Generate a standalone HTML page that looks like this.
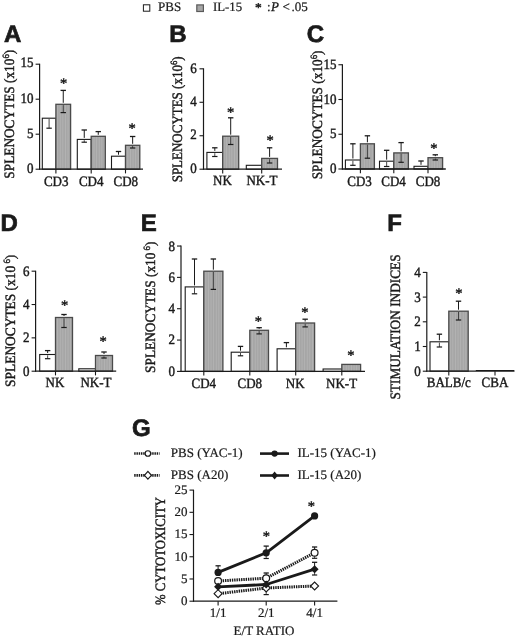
<!DOCTYPE html>
<html><head><meta charset="utf-8"><title>Figure</title>
<style>html,body{margin:0;padding:0;background:#fff;}svg{display:block;filter:grayscale(1);}text{text-rendering:geometricPrecision;}</style></head>
<body>
<svg width="520" height="638" viewBox="0 0 520 638">
<defs>
<pattern id="hatch" width="2.6" height="4" patternUnits="userSpaceOnUse">
<rect width="2.6" height="4" fill="#a6a6a6"/>
<rect x="0" width="0.9" height="4" fill="#b3b3b3"/>
</pattern>
</defs>
<rect width="520" height="638" fill="#fff"/>
<rect x="143.4" y="4.8" width="6.4" height="6.4" fill="#fff" stroke="#1a1a1a" stroke-width="1"/>
<text transform="translate(158.10,10.80) scale(1,1)" font-family='"Liberation Serif", serif' font-size="13" text-anchor="start" font-weight="normal" font-style="normal" fill="#1a1a1a" stroke="#1a1a1a" stroke-width="0.22" >PBS</text>
<rect x="196.8" y="4.9" width="6.6" height="6.6" fill="#a6a6a6" stroke="#5a5a5a" stroke-width="1.2"/>
<text transform="translate(213.00,10.80) scale(1,1)" font-family='"Liberation Serif", serif' font-size="12.8" text-anchor="start" font-weight="normal" font-style="normal" fill="#1a1a1a" stroke="#1a1a1a" stroke-width="0.22" >IL-15</text>
<text transform="translate(258.40,11.54) scale(1,1)" font-family='"Liberation Serif", serif' font-size="13.5" text-anchor="middle" font-weight="normal" font-style="normal" fill="#1a1a1a" stroke="#1a1a1a" stroke-width="0.45" >*</text>
<text transform="translate(267.00,10.80) scale(1,1)" font-family='"Liberation Serif", serif' font-size="13" text-anchor="start" font-weight="normal" font-style="normal" fill="#1a1a1a" stroke="#1a1a1a" stroke-width="0.22" >:</text>
<text transform="translate(271.00,10.80) scale(1,1)" font-family='"Liberation Serif", serif' font-size="13" text-anchor="start" font-weight="normal" font-style="italic" fill="#1a1a1a" stroke="#1a1a1a" stroke-width="0.3" >P</text>
<text transform="translate(282.50,10.80) scale(1,1)" font-family='"Liberation Serif", serif' font-size="13" text-anchor="start" font-weight="normal" font-style="normal" fill="#1a1a1a" stroke="#1a1a1a" stroke-width="0.22" >&lt;</text>
<text transform="translate(291.60,10.80) scale(1,1)" font-family='"Liberation Serif", serif' font-size="13" text-anchor="start" font-weight="normal" font-style="normal" fill="#1a1a1a" stroke="#1a1a1a" stroke-width="0.22" >.05</text>
<text transform="translate(3.90,41.60) scale(1,1)" font-family='"Liberation Sans", sans-serif' font-size="24" text-anchor="start" font-weight="bold" font-style="normal" fill="#1a1a1a" stroke="#1a1a1a" stroke-width="0.7" >A</text>
<text transform="translate(169.30,42.00) scale(1,1)" font-family='"Liberation Sans", sans-serif' font-size="24" text-anchor="start" font-weight="bold" font-style="normal" fill="#1a1a1a" stroke="#1a1a1a" stroke-width="0.7" >B</text>
<text transform="translate(306.70,42.20) scale(1,1)" font-family='"Liberation Sans", sans-serif' font-size="24" text-anchor="start" font-weight="bold" font-style="normal" fill="#1a1a1a" stroke="#1a1a1a" stroke-width="0.7" >C</text>
<text transform="translate(0.40,231.20) scale(1,1)" font-family='"Liberation Sans", sans-serif' font-size="24" text-anchor="start" font-weight="bold" font-style="normal" fill="#1a1a1a" stroke="#1a1a1a" stroke-width="0.7" >D</text>
<text transform="translate(140.80,231.20) scale(1,1)" font-family='"Liberation Sans", sans-serif' font-size="24" text-anchor="start" font-weight="bold" font-style="normal" fill="#1a1a1a" stroke="#1a1a1a" stroke-width="0.7" >E</text>
<text transform="translate(387.20,231.20) scale(1,1)" font-family='"Liberation Sans", sans-serif' font-size="24" text-anchor="start" font-weight="bold" font-style="normal" fill="#1a1a1a" stroke="#1a1a1a" stroke-width="0.7" >F</text>
<text transform="translate(132.00,435.70) scale(1,1)" font-family='"Liberation Sans", sans-serif' font-size="24" text-anchor="start" font-weight="bold" font-style="normal" fill="#1a1a1a" stroke="#1a1a1a" stroke-width="0.7" >G</text>
<rect x="42.30" y="118.20" width="13.60" height="51.00" fill="#fff" stroke="#1a1a1a" stroke-width="1.1"/>
<rect x="55.90" y="104.30" width="14.70" height="64.90" fill="url(#hatch)" stroke="#4a4a4a" stroke-width="1.3"/>
<rect x="77.30" y="139.40" width="13.90" height="29.80" fill="#fff" stroke="#1a1a1a" stroke-width="1.1"/>
<rect x="91.20" y="136.30" width="14.10" height="32.90" fill="url(#hatch)" stroke="#4a4a4a" stroke-width="1.3"/>
<rect x="111.50" y="156.20" width="14.00" height="13.00" fill="#fff" stroke="#1a1a1a" stroke-width="1.1"/>
<rect x="125.50" y="145.30" width="14.30" height="23.90" fill="url(#hatch)" stroke="#4a4a4a" stroke-width="1.3"/>
<line x1="39.60" y1="63.70" x2="39.60" y2="169.70" stroke="#1a1a1a" stroke-width="1.2" />
<line x1="39.10" y1="169.20" x2="143.00" y2="169.20" stroke="#1a1a1a" stroke-width="1.3" />
<line x1="35.60" y1="169.20" x2="39.60" y2="169.20" stroke="#1a1a1a" stroke-width="1.1" />
<text transform="translate(33.60,173.40) scale(0.91,1)" font-family='"Liberation Serif", serif' font-size="14.3" text-anchor="end" font-weight="normal" font-style="normal" fill="#1a1a1a" stroke="#1a1a1a" stroke-width="0.42" >0</text>
<line x1="35.60" y1="134.20" x2="39.60" y2="134.20" stroke="#1a1a1a" stroke-width="1.1" />
<text transform="translate(33.60,138.03) scale(0.91,1)" font-family='"Liberation Serif", serif' font-size="14.3" text-anchor="end" font-weight="normal" font-style="normal" fill="#1a1a1a" stroke="#1a1a1a" stroke-width="0.42" >5</text>
<line x1="35.60" y1="99.20" x2="39.60" y2="99.20" stroke="#1a1a1a" stroke-width="1.1" />
<text transform="translate(33.60,102.67) scale(0.91,1)" font-family='"Liberation Serif", serif' font-size="14.3" text-anchor="end" font-weight="normal" font-style="normal" fill="#1a1a1a" stroke="#1a1a1a" stroke-width="0.42" >10</text>
<line x1="35.60" y1="64.20" x2="39.60" y2="64.20" stroke="#1a1a1a" stroke-width="1.1" />
<text transform="translate(33.60,67.30) scale(0.91,1)" font-family='"Liberation Serif", serif' font-size="14.3" text-anchor="end" font-weight="normal" font-style="normal" fill="#1a1a1a" stroke="#1a1a1a" stroke-width="0.42" >15</text>
<line x1="49.10" y1="119.00" x2="49.10" y2="128.20" stroke="#333" stroke-width="0.9" />
<line x1="46.40" y1="128.20" x2="51.80" y2="128.20" stroke="#1a1a1a" stroke-width="1.2" />
<line x1="63.25" y1="90.40" x2="63.25" y2="102.80" stroke="#1a1a1a" stroke-width="1.0" />
<line x1="60.55" y1="90.40" x2="65.95" y2="90.40" stroke="#1a1a1a" stroke-width="1.3" />
<line x1="63.25" y1="105.10" x2="63.25" y2="112.60" stroke="#333" stroke-width="0.9" />
<line x1="60.55" y1="112.60" x2="65.95" y2="112.60" stroke="#1a1a1a" stroke-width="1.2" />
<line x1="55.90" y1="169.20" x2="55.90" y2="173.40" stroke="#1a1a1a" stroke-width="1.1" />
<line x1="84.25" y1="130.00" x2="84.25" y2="137.90" stroke="#1a1a1a" stroke-width="1.0" />
<line x1="81.55" y1="130.00" x2="86.95" y2="130.00" stroke="#1a1a1a" stroke-width="1.3" />
<line x1="84.25" y1="140.20" x2="84.25" y2="142.20" stroke="#333" stroke-width="0.9" />
<line x1="81.55" y1="142.20" x2="86.95" y2="142.20" stroke="#1a1a1a" stroke-width="1.2" />
<line x1="98.25" y1="131.60" x2="98.25" y2="134.80" stroke="#1a1a1a" stroke-width="1.0" />
<line x1="95.55" y1="131.60" x2="100.95" y2="131.60" stroke="#1a1a1a" stroke-width="1.3" />
<line x1="91.20" y1="169.20" x2="91.20" y2="173.40" stroke="#1a1a1a" stroke-width="1.1" />
<line x1="118.50" y1="151.50" x2="118.50" y2="154.70" stroke="#1a1a1a" stroke-width="1.0" />
<line x1="115.80" y1="151.50" x2="121.20" y2="151.50" stroke="#1a1a1a" stroke-width="1.3" />
<line x1="132.65" y1="136.50" x2="132.65" y2="143.80" stroke="#1a1a1a" stroke-width="1.0" />
<line x1="129.95" y1="136.50" x2="135.35" y2="136.50" stroke="#1a1a1a" stroke-width="1.3" />
<line x1="132.65" y1="146.10" x2="132.65" y2="148.00" stroke="#333" stroke-width="0.9" />
<line x1="129.95" y1="148.00" x2="135.35" y2="148.00" stroke="#1a1a1a" stroke-width="1.2" />
<line x1="125.50" y1="169.20" x2="125.50" y2="173.40" stroke="#1a1a1a" stroke-width="1.1" />
<text transform="translate(56.20,186.00) scale(0.91,1)" font-family='"Liberation Serif", serif' font-size="14.3" text-anchor="middle" font-weight="normal" font-style="normal" fill="#1a1a1a" stroke="#1a1a1a" stroke-width="0.42" >CD3</text>
<text transform="translate(91.20,186.00) scale(0.91,1)" font-family='"Liberation Serif", serif' font-size="14.3" text-anchor="middle" font-weight="normal" font-style="normal" fill="#1a1a1a" stroke="#1a1a1a" stroke-width="0.42" >CD4</text>
<text transform="translate(125.80,186.00) scale(0.91,1)" font-family='"Liberation Serif", serif' font-size="14.3" text-anchor="middle" font-weight="normal" font-style="normal" fill="#1a1a1a" stroke="#1a1a1a" stroke-width="0.42" >CD8</text>
<text transform="translate(63.50,87.61) scale(1,1)" font-family='"Liberation Serif", serif' font-size="14.5" text-anchor="middle" font-weight="normal" font-style="normal" fill="#1a1a1a" stroke="#1a1a1a" stroke-width="0.45" >*</text>
<text transform="translate(132.00,133.31) scale(1,1)" font-family='"Liberation Serif", serif' font-size="14.5" text-anchor="middle" font-weight="normal" font-style="normal" fill="#1a1a1a" stroke="#1a1a1a" stroke-width="0.45" >*</text>
<text transform="translate(14.10,114.20) rotate(-90) scale(0.93,1)" font-family='"Liberation Serif", serif' font-size="14.3" text-anchor="middle" fill="#1a1a1a" stroke="#1a1a1a" stroke-width="0.42">SPLENOCYTES (x10<tspan font-size="9.5" dy="-5">6</tspan><tspan dy="5">)</tspan></text>
<rect x="206.90" y="152.40" width="15.80" height="16.80" fill="#fff" stroke="#1a1a1a" stroke-width="1.1"/>
<rect x="222.70" y="136.20" width="16.00" height="33.00" fill="url(#hatch)" stroke="#4a4a4a" stroke-width="1.3"/>
<rect x="246.30" y="165.30" width="15.40" height="3.90" fill="#fff" stroke="#1a1a1a" stroke-width="1.1"/>
<rect x="261.70" y="158.40" width="15.80" height="10.80" fill="url(#hatch)" stroke="#4a4a4a" stroke-width="1.3"/>
<line x1="203.50" y1="68.30" x2="203.50" y2="169.70" stroke="#1a1a1a" stroke-width="1.2" />
<line x1="203.00" y1="169.20" x2="282.00" y2="169.20" stroke="#1a1a1a" stroke-width="1.3" />
<line x1="199.50" y1="169.20" x2="203.50" y2="169.20" stroke="#1a1a1a" stroke-width="1.1" />
<text transform="translate(196.70,172.80) scale(0.91,1)" font-family='"Liberation Serif", serif' font-size="14.3" text-anchor="end" font-weight="normal" font-style="normal" fill="#1a1a1a" stroke="#1a1a1a" stroke-width="0.42" >0</text>
<line x1="199.50" y1="135.74" x2="203.50" y2="135.74" stroke="#1a1a1a" stroke-width="1.1" />
<text transform="translate(196.70,139.41) scale(0.91,1)" font-family='"Liberation Serif", serif' font-size="14.3" text-anchor="end" font-weight="normal" font-style="normal" fill="#1a1a1a" stroke="#1a1a1a" stroke-width="0.42" >2</text>
<line x1="199.50" y1="102.28" x2="203.50" y2="102.28" stroke="#1a1a1a" stroke-width="1.1" />
<text transform="translate(196.70,106.01) scale(0.91,1)" font-family='"Liberation Serif", serif' font-size="14.3" text-anchor="end" font-weight="normal" font-style="normal" fill="#1a1a1a" stroke="#1a1a1a" stroke-width="0.42" >4</text>
<line x1="199.50" y1="68.82" x2="203.50" y2="68.82" stroke="#1a1a1a" stroke-width="1.1" />
<text transform="translate(196.70,72.62) scale(0.91,1)" font-family='"Liberation Serif", serif' font-size="14.3" text-anchor="end" font-weight="normal" font-style="normal" fill="#1a1a1a" stroke="#1a1a1a" stroke-width="0.42" >6</text>
<line x1="214.80" y1="147.80" x2="214.80" y2="150.90" stroke="#1a1a1a" stroke-width="1.0" />
<line x1="212.10" y1="147.80" x2="217.50" y2="147.80" stroke="#1a1a1a" stroke-width="1.3" />
<line x1="214.80" y1="153.20" x2="214.80" y2="156.50" stroke="#333" stroke-width="0.9" />
<line x1="212.10" y1="156.50" x2="217.50" y2="156.50" stroke="#1a1a1a" stroke-width="1.2" />
<line x1="230.70" y1="117.80" x2="230.70" y2="134.70" stroke="#1a1a1a" stroke-width="1.0" />
<line x1="228.00" y1="117.80" x2="233.40" y2="117.80" stroke="#1a1a1a" stroke-width="1.3" />
<line x1="230.70" y1="137.00" x2="230.70" y2="144.50" stroke="#333" stroke-width="0.9" />
<line x1="228.00" y1="144.50" x2="233.40" y2="144.50" stroke="#1a1a1a" stroke-width="1.2" />
<line x1="222.70" y1="169.20" x2="222.70" y2="173.40" stroke="#1a1a1a" stroke-width="1.1" />
<line x1="269.60" y1="147.80" x2="269.60" y2="156.90" stroke="#1a1a1a" stroke-width="1.0" />
<line x1="266.90" y1="147.80" x2="272.30" y2="147.80" stroke="#1a1a1a" stroke-width="1.3" />
<line x1="269.60" y1="159.20" x2="269.60" y2="163.00" stroke="#333" stroke-width="0.9" />
<line x1="266.90" y1="163.00" x2="272.30" y2="163.00" stroke="#1a1a1a" stroke-width="1.2" />
<line x1="261.70" y1="169.20" x2="261.70" y2="173.40" stroke="#1a1a1a" stroke-width="1.1" />
<text transform="translate(222.50,185.30) scale(0.91,1)" font-family='"Liberation Serif", serif' font-size="14.3" text-anchor="middle" font-weight="normal" font-style="normal" fill="#1a1a1a" stroke="#1a1a1a" stroke-width="0.42" >NK</text>
<text transform="translate(262.00,185.30) scale(0.91,1)" font-family='"Liberation Serif", serif' font-size="14.3" text-anchor="middle" font-weight="normal" font-style="normal" fill="#1a1a1a" stroke="#1a1a1a" stroke-width="0.42" >NK-T</text>
<text transform="translate(230.50,117.31) scale(1,1)" font-family='"Liberation Serif", serif' font-size="14.5" text-anchor="middle" font-weight="normal" font-style="normal" fill="#1a1a1a" stroke="#1a1a1a" stroke-width="0.45" >*</text>
<text transform="translate(270.00,145.31) scale(1,1)" font-family='"Liberation Serif", serif' font-size="14.5" text-anchor="middle" font-weight="normal" font-style="normal" fill="#1a1a1a" stroke="#1a1a1a" stroke-width="0.45" >*</text>
<text transform="translate(182.20,119.40) rotate(-90) scale(0.908,1)" font-family='"Liberation Serif", serif' font-size="14.3" text-anchor="middle" fill="#1a1a1a" stroke="#1a1a1a" stroke-width="0.42">SPLENOCYTES (x10<tspan font-size="9.5" dy="-5">6</tspan><tspan dy="5">)</tspan></text>
<rect x="345.40" y="160.00" width="15.00" height="9.00" fill="#fff" stroke="#1a1a1a" stroke-width="1.1"/>
<rect x="360.40" y="143.80" width="14.00" height="25.20" fill="url(#hatch)" stroke="#4a4a4a" stroke-width="1.3"/>
<rect x="379.50" y="161.20" width="14.30" height="7.80" fill="#fff" stroke="#1a1a1a" stroke-width="1.1"/>
<rect x="393.80" y="152.90" width="14.60" height="16.10" fill="url(#hatch)" stroke="#4a4a4a" stroke-width="1.3"/>
<rect x="414.00" y="166.30" width="14.00" height="2.70" fill="#fff" stroke="#1a1a1a" stroke-width="1.1"/>
<rect x="428.00" y="157.70" width="14.60" height="11.30" fill="url(#hatch)" stroke="#4a4a4a" stroke-width="1.3"/>
<line x1="342.40" y1="64.20" x2="342.40" y2="169.50" stroke="#1a1a1a" stroke-width="1.2" />
<line x1="341.90" y1="169.00" x2="445.80" y2="169.00" stroke="#1a1a1a" stroke-width="1.3" />
<line x1="338.40" y1="169.00" x2="342.40" y2="169.00" stroke="#1a1a1a" stroke-width="1.1" />
<text transform="translate(336.40,173.20) scale(0.91,1)" font-family='"Liberation Serif", serif' font-size="14.3" text-anchor="end" font-weight="normal" font-style="normal" fill="#1a1a1a" stroke="#1a1a1a" stroke-width="0.42" >0</text>
<line x1="338.40" y1="134.25" x2="342.40" y2="134.25" stroke="#1a1a1a" stroke-width="1.1" />
<text transform="translate(336.40,138.38) scale(0.91,1)" font-family='"Liberation Serif", serif' font-size="14.3" text-anchor="end" font-weight="normal" font-style="normal" fill="#1a1a1a" stroke="#1a1a1a" stroke-width="0.42" >5</text>
<line x1="338.40" y1="99.50" x2="342.40" y2="99.50" stroke="#1a1a1a" stroke-width="1.1" />
<text transform="translate(336.40,103.57) scale(0.91,1)" font-family='"Liberation Serif", serif' font-size="14.3" text-anchor="end" font-weight="normal" font-style="normal" fill="#1a1a1a" stroke="#1a1a1a" stroke-width="0.42" >10</text>
<line x1="338.40" y1="64.75" x2="342.40" y2="64.75" stroke="#1a1a1a" stroke-width="1.1" />
<text transform="translate(336.40,68.75) scale(0.91,1)" font-family='"Liberation Serif", serif' font-size="14.3" text-anchor="end" font-weight="normal" font-style="normal" fill="#1a1a1a" stroke="#1a1a1a" stroke-width="0.42" >15</text>
<line x1="352.90" y1="143.80" x2="352.90" y2="158.50" stroke="#1a1a1a" stroke-width="1.0" />
<line x1="350.20" y1="143.80" x2="355.60" y2="143.80" stroke="#1a1a1a" stroke-width="1.3" />
<line x1="352.90" y1="160.80" x2="352.90" y2="165.30" stroke="#333" stroke-width="0.9" />
<line x1="350.20" y1="165.30" x2="355.60" y2="165.30" stroke="#1a1a1a" stroke-width="1.2" />
<line x1="367.40" y1="135.80" x2="367.40" y2="142.30" stroke="#1a1a1a" stroke-width="1.0" />
<line x1="364.70" y1="135.80" x2="370.10" y2="135.80" stroke="#1a1a1a" stroke-width="1.3" />
<line x1="367.40" y1="144.60" x2="367.40" y2="158.20" stroke="#333" stroke-width="0.9" />
<line x1="364.70" y1="158.20" x2="370.10" y2="158.20" stroke="#1a1a1a" stroke-width="1.2" />
<line x1="360.40" y1="169.00" x2="360.40" y2="173.20" stroke="#1a1a1a" stroke-width="1.1" />
<line x1="386.65" y1="150.30" x2="386.65" y2="159.70" stroke="#1a1a1a" stroke-width="1.0" />
<line x1="383.95" y1="150.30" x2="389.35" y2="150.30" stroke="#1a1a1a" stroke-width="1.3" />
<line x1="386.65" y1="162.00" x2="386.65" y2="166.50" stroke="#333" stroke-width="0.9" />
<line x1="383.95" y1="166.50" x2="389.35" y2="166.50" stroke="#1a1a1a" stroke-width="1.2" />
<line x1="401.10" y1="142.60" x2="401.10" y2="151.40" stroke="#1a1a1a" stroke-width="1.0" />
<line x1="398.40" y1="142.60" x2="403.80" y2="142.60" stroke="#1a1a1a" stroke-width="1.3" />
<line x1="401.10" y1="153.70" x2="401.10" y2="162.30" stroke="#333" stroke-width="0.9" />
<line x1="398.40" y1="162.30" x2="403.80" y2="162.30" stroke="#1a1a1a" stroke-width="1.2" />
<line x1="393.80" y1="169.00" x2="393.80" y2="173.20" stroke="#1a1a1a" stroke-width="1.1" />
<line x1="421.00" y1="161.00" x2="421.00" y2="164.80" stroke="#1a1a1a" stroke-width="1.0" />
<line x1="418.30" y1="161.00" x2="423.70" y2="161.00" stroke="#1a1a1a" stroke-width="1.3" />
<line x1="435.30" y1="154.80" x2="435.30" y2="156.20" stroke="#1a1a1a" stroke-width="1.0" />
<line x1="432.60" y1="154.80" x2="438.00" y2="154.80" stroke="#1a1a1a" stroke-width="1.3" />
<line x1="435.30" y1="158.50" x2="435.30" y2="160.00" stroke="#333" stroke-width="0.9" />
<line x1="432.60" y1="160.00" x2="438.00" y2="160.00" stroke="#1a1a1a" stroke-width="1.2" />
<line x1="428.00" y1="169.00" x2="428.00" y2="173.20" stroke="#1a1a1a" stroke-width="1.1" />
<text transform="translate(359.50,186.00) scale(0.91,1)" font-family='"Liberation Serif", serif' font-size="14.3" text-anchor="middle" font-weight="normal" font-style="normal" fill="#1a1a1a" stroke="#1a1a1a" stroke-width="0.42" >CD3</text>
<text transform="translate(393.50,186.00) scale(0.91,1)" font-family='"Liberation Serif", serif' font-size="14.3" text-anchor="middle" font-weight="normal" font-style="normal" fill="#1a1a1a" stroke="#1a1a1a" stroke-width="0.42" >CD4</text>
<text transform="translate(428.00,186.00) scale(0.91,1)" font-family='"Liberation Serif", serif' font-size="14.3" text-anchor="middle" font-weight="normal" font-style="normal" fill="#1a1a1a" stroke="#1a1a1a" stroke-width="0.42" >CD8</text>
<text transform="translate(433.80,152.81) scale(1,1)" font-family='"Liberation Serif", serif' font-size="14.5" text-anchor="middle" font-weight="normal" font-style="normal" fill="#1a1a1a" stroke="#1a1a1a" stroke-width="0.45" >*</text>
<text transform="translate(322.00,114.90) rotate(-90) scale(0.93,1)" font-family='"Liberation Serif", serif' font-size="14.3" text-anchor="middle" fill="#1a1a1a" stroke="#1a1a1a" stroke-width="0.42">SPLENOCYTES (x10<tspan font-size="9.5" dy="-5">6</tspan><tspan dy="5">)</tspan></text>
<rect x="39.70" y="354.50" width="15.90" height="16.70" fill="#fff" stroke="#1a1a1a" stroke-width="1.1"/>
<rect x="55.50" y="317.50" width="17.00" height="53.70" fill="url(#hatch)" stroke="#4a4a4a" stroke-width="1.3"/>
<rect x="78.80" y="368.80" width="16.70" height="2.40" fill="#fff" stroke="#1a1a1a" stroke-width="1.1"/>
<rect x="95.50" y="355.50" width="17.00" height="15.70" fill="url(#hatch)" stroke="#4a4a4a" stroke-width="1.3"/>
<line x1="35.60" y1="270.70" x2="35.60" y2="371.70" stroke="#1a1a1a" stroke-width="1.2" />
<line x1="35.10" y1="371.20" x2="116.20" y2="371.20" stroke="#1a1a1a" stroke-width="1.3" />
<line x1="31.60" y1="371.20" x2="35.60" y2="371.20" stroke="#1a1a1a" stroke-width="1.1" />
<text transform="translate(29.60,375.50) scale(0.91,1)" font-family='"Liberation Serif", serif' font-size="14.3" text-anchor="end" font-weight="normal" font-style="normal" fill="#1a1a1a" stroke="#1a1a1a" stroke-width="0.42" >0</text>
<line x1="31.60" y1="337.86" x2="35.60" y2="337.86" stroke="#1a1a1a" stroke-width="1.1" />
<text transform="translate(29.60,342.26) scale(0.91,1)" font-family='"Liberation Serif", serif' font-size="14.3" text-anchor="end" font-weight="normal" font-style="normal" fill="#1a1a1a" stroke="#1a1a1a" stroke-width="0.42" >2</text>
<line x1="31.60" y1="304.52" x2="35.60" y2="304.52" stroke="#1a1a1a" stroke-width="1.1" />
<text transform="translate(29.60,309.02) scale(0.91,1)" font-family='"Liberation Serif", serif' font-size="14.3" text-anchor="end" font-weight="normal" font-style="normal" fill="#1a1a1a" stroke="#1a1a1a" stroke-width="0.42" >4</text>
<line x1="31.60" y1="271.18" x2="35.60" y2="271.18" stroke="#1a1a1a" stroke-width="1.1" />
<text transform="translate(29.60,275.78) scale(0.91,1)" font-family='"Liberation Serif", serif' font-size="14.3" text-anchor="end" font-weight="normal" font-style="normal" fill="#1a1a1a" stroke="#1a1a1a" stroke-width="0.42" >6</text>
<line x1="47.65" y1="350.60" x2="47.65" y2="353.00" stroke="#1a1a1a" stroke-width="1.0" />
<line x1="44.95" y1="350.60" x2="50.35" y2="350.60" stroke="#1a1a1a" stroke-width="1.3" />
<line x1="47.65" y1="355.30" x2="47.65" y2="358.70" stroke="#333" stroke-width="0.9" />
<line x1="44.95" y1="358.70" x2="50.35" y2="358.70" stroke="#1a1a1a" stroke-width="1.2" />
<line x1="64.00" y1="314.50" x2="64.00" y2="316.00" stroke="#1a1a1a" stroke-width="1.0" />
<line x1="61.30" y1="314.50" x2="66.70" y2="314.50" stroke="#1a1a1a" stroke-width="1.3" />
<line x1="64.00" y1="318.30" x2="64.00" y2="327.50" stroke="#333" stroke-width="0.9" />
<line x1="61.30" y1="327.50" x2="66.70" y2="327.50" stroke="#1a1a1a" stroke-width="1.2" />
<line x1="55.50" y1="371.20" x2="55.50" y2="375.40" stroke="#1a1a1a" stroke-width="1.1" />
<line x1="104.00" y1="352.00" x2="104.00" y2="354.00" stroke="#1a1a1a" stroke-width="1.0" />
<line x1="101.30" y1="352.00" x2="106.70" y2="352.00" stroke="#1a1a1a" stroke-width="1.3" />
<line x1="104.00" y1="356.30" x2="104.00" y2="358.00" stroke="#333" stroke-width="0.9" />
<line x1="101.30" y1="358.00" x2="106.70" y2="358.00" stroke="#1a1a1a" stroke-width="1.2" />
<line x1="95.50" y1="371.20" x2="95.50" y2="375.40" stroke="#1a1a1a" stroke-width="1.1" />
<text transform="translate(55.00,387.00) scale(0.91,1)" font-family='"Liberation Serif", serif' font-size="14.3" text-anchor="middle" font-weight="normal" font-style="normal" fill="#1a1a1a" stroke="#1a1a1a" stroke-width="0.42" >NK</text>
<text transform="translate(96.00,387.00) scale(0.91,1)" font-family='"Liberation Serif", serif' font-size="14.3" text-anchor="middle" font-weight="normal" font-style="normal" fill="#1a1a1a" stroke="#1a1a1a" stroke-width="0.42" >NK-T</text>
<text transform="translate(64.50,310.01) scale(1,1)" font-family='"Liberation Serif", serif' font-size="14.5" text-anchor="middle" font-weight="normal" font-style="normal" fill="#1a1a1a" stroke="#1a1a1a" stroke-width="0.45" >*</text>
<text transform="translate(103.20,346.21) scale(1,1)" font-family='"Liberation Serif", serif' font-size="14.5" text-anchor="middle" font-weight="normal" font-style="normal" fill="#1a1a1a" stroke="#1a1a1a" stroke-width="0.45" >*</text>
<text transform="translate(14.90,320.80) rotate(-90) scale(0.938,1)" font-family='"Liberation Serif", serif' font-size="14.3" text-anchor="middle" fill="#1a1a1a" stroke="#1a1a1a" stroke-width="0.42">SPLENOCYTES (x10<tspan font-size="9.5" dy="-5"> 6</tspan><tspan dy="5">)</tspan></text>
<rect x="185.20" y="286.90" width="18.60" height="84.50" fill="#fff" stroke="#1a1a1a" stroke-width="1.1"/>
<rect x="203.80" y="271.20" width="19.10" height="100.20" fill="url(#hatch)" stroke="#4a4a4a" stroke-width="1.3"/>
<rect x="231.20" y="352.20" width="18.60" height="19.20" fill="#fff" stroke="#1a1a1a" stroke-width="1.1"/>
<rect x="249.80" y="330.30" width="18.70" height="41.10" fill="url(#hatch)" stroke="#4a4a4a" stroke-width="1.3"/>
<rect x="277.10" y="348.80" width="18.60" height="22.60" fill="#fff" stroke="#1a1a1a" stroke-width="1.1"/>
<rect x="295.70" y="323.00" width="18.90" height="48.40" fill="url(#hatch)" stroke="#4a4a4a" stroke-width="1.3"/>
<rect x="323.10" y="369.00" width="18.70" height="2.40" fill="#fff" stroke="#1a1a1a" stroke-width="1.1"/>
<rect x="341.80" y="364.40" width="18.80" height="7.00" fill="url(#hatch)" stroke="#4a4a4a" stroke-width="1.3"/>
<line x1="181.00" y1="245.50" x2="181.00" y2="371.90" stroke="#1a1a1a" stroke-width="1.2" />
<line x1="180.50" y1="371.40" x2="365.00" y2="371.40" stroke="#1a1a1a" stroke-width="1.3" />
<line x1="177.00" y1="371.40" x2="181.00" y2="371.40" stroke="#1a1a1a" stroke-width="1.1" />
<text transform="translate(175.00,375.70) scale(0.91,1)" font-family='"Liberation Serif", serif' font-size="14.3" text-anchor="end" font-weight="normal" font-style="normal" fill="#1a1a1a" stroke="#1a1a1a" stroke-width="0.42" >0</text>
<line x1="177.00" y1="340.06" x2="181.00" y2="340.06" stroke="#1a1a1a" stroke-width="1.1" />
<text transform="translate(175.00,344.44) scale(0.91,1)" font-family='"Liberation Serif", serif' font-size="14.3" text-anchor="end" font-weight="normal" font-style="normal" fill="#1a1a1a" stroke="#1a1a1a" stroke-width="0.42" >2</text>
<line x1="177.00" y1="308.72" x2="181.00" y2="308.72" stroke="#1a1a1a" stroke-width="1.1" />
<text transform="translate(175.00,313.17) scale(0.91,1)" font-family='"Liberation Serif", serif' font-size="14.3" text-anchor="end" font-weight="normal" font-style="normal" fill="#1a1a1a" stroke="#1a1a1a" stroke-width="0.42" >4</text>
<line x1="177.00" y1="277.38" x2="181.00" y2="277.38" stroke="#1a1a1a" stroke-width="1.1" />
<text transform="translate(175.00,281.90) scale(0.91,1)" font-family='"Liberation Serif", serif' font-size="14.3" text-anchor="end" font-weight="normal" font-style="normal" fill="#1a1a1a" stroke="#1a1a1a" stroke-width="0.42" >6</text>
<line x1="177.00" y1="246.04" x2="181.00" y2="246.04" stroke="#1a1a1a" stroke-width="1.1" />
<text transform="translate(175.00,250.64) scale(0.91,1)" font-family='"Liberation Serif", serif' font-size="14.3" text-anchor="end" font-weight="normal" font-style="normal" fill="#1a1a1a" stroke="#1a1a1a" stroke-width="0.42" >8</text>
<line x1="194.50" y1="259.00" x2="194.50" y2="285.40" stroke="#1a1a1a" stroke-width="1.0" />
<line x1="191.80" y1="259.00" x2="197.20" y2="259.00" stroke="#1a1a1a" stroke-width="1.3" />
<line x1="194.50" y1="287.70" x2="194.50" y2="293.80" stroke="#333" stroke-width="0.9" />
<line x1="191.80" y1="293.80" x2="197.20" y2="293.80" stroke="#1a1a1a" stroke-width="1.2" />
<line x1="213.35" y1="259.00" x2="213.35" y2="269.70" stroke="#1a1a1a" stroke-width="1.0" />
<line x1="210.65" y1="259.00" x2="216.05" y2="259.00" stroke="#1a1a1a" stroke-width="1.3" />
<line x1="213.35" y1="272.00" x2="213.35" y2="289.40" stroke="#333" stroke-width="0.9" />
<line x1="210.65" y1="289.40" x2="216.05" y2="289.40" stroke="#1a1a1a" stroke-width="1.2" />
<line x1="203.80" y1="371.40" x2="203.80" y2="375.60" stroke="#1a1a1a" stroke-width="1.1" />
<line x1="240.50" y1="346.40" x2="240.50" y2="350.70" stroke="#1a1a1a" stroke-width="1.0" />
<line x1="237.80" y1="346.40" x2="243.20" y2="346.40" stroke="#1a1a1a" stroke-width="1.3" />
<line x1="240.50" y1="353.00" x2="240.50" y2="355.80" stroke="#333" stroke-width="0.9" />
<line x1="237.80" y1="355.80" x2="243.20" y2="355.80" stroke="#1a1a1a" stroke-width="1.2" />
<line x1="259.15" y1="327.70" x2="259.15" y2="328.80" stroke="#1a1a1a" stroke-width="1.0" />
<line x1="256.45" y1="327.70" x2="261.85" y2="327.70" stroke="#1a1a1a" stroke-width="1.3" />
<line x1="259.15" y1="331.10" x2="259.15" y2="333.90" stroke="#333" stroke-width="0.9" />
<line x1="256.45" y1="333.90" x2="261.85" y2="333.90" stroke="#1a1a1a" stroke-width="1.2" />
<line x1="249.80" y1="371.40" x2="249.80" y2="375.60" stroke="#1a1a1a" stroke-width="1.1" />
<line x1="286.40" y1="342.60" x2="286.40" y2="347.30" stroke="#1a1a1a" stroke-width="1.0" />
<line x1="283.70" y1="342.60" x2="289.10" y2="342.60" stroke="#1a1a1a" stroke-width="1.3" />
<line x1="305.15" y1="319.20" x2="305.15" y2="321.50" stroke="#1a1a1a" stroke-width="1.0" />
<line x1="302.45" y1="319.20" x2="307.85" y2="319.20" stroke="#1a1a1a" stroke-width="1.3" />
<line x1="305.15" y1="323.80" x2="305.15" y2="326.90" stroke="#333" stroke-width="0.9" />
<line x1="302.45" y1="326.90" x2="307.85" y2="326.90" stroke="#1a1a1a" stroke-width="1.2" />
<line x1="295.70" y1="371.40" x2="295.70" y2="375.60" stroke="#1a1a1a" stroke-width="1.1" />
<line x1="341.80" y1="371.40" x2="341.80" y2="375.60" stroke="#1a1a1a" stroke-width="1.1" />
<text transform="translate(203.80,387.60) scale(0.91,1)" font-family='"Liberation Serif", serif' font-size="14.3" text-anchor="middle" font-weight="normal" font-style="normal" fill="#1a1a1a" stroke="#1a1a1a" stroke-width="0.42" >CD4</text>
<text transform="translate(249.80,387.60) scale(0.91,1)" font-family='"Liberation Serif", serif' font-size="14.3" text-anchor="middle" font-weight="normal" font-style="normal" fill="#1a1a1a" stroke="#1a1a1a" stroke-width="0.42" >CD8</text>
<text transform="translate(295.20,387.60) scale(0.91,1)" font-family='"Liberation Serif", serif' font-size="14.3" text-anchor="middle" font-weight="normal" font-style="normal" fill="#1a1a1a" stroke="#1a1a1a" stroke-width="0.42" >NK</text>
<text transform="translate(341.60,387.60) scale(0.91,1)" font-family='"Liberation Serif", serif' font-size="14.3" text-anchor="middle" font-weight="normal" font-style="normal" fill="#1a1a1a" stroke="#1a1a1a" stroke-width="0.42" >NK-T</text>
<text transform="translate(258.40,325.81) scale(1,1)" font-family='"Liberation Serif", serif' font-size="14.5" text-anchor="middle" font-weight="normal" font-style="normal" fill="#1a1a1a" stroke="#1a1a1a" stroke-width="0.45" >*</text>
<text transform="translate(304.80,317.42) scale(1,1)" font-family='"Liberation Serif", serif' font-size="14.5" text-anchor="middle" font-weight="normal" font-style="normal" fill="#1a1a1a" stroke="#1a1a1a" stroke-width="0.45" >*</text>
<text transform="translate(350.80,359.62) scale(1,1)" font-family='"Liberation Serif", serif' font-size="14.5" text-anchor="middle" font-weight="normal" font-style="normal" fill="#1a1a1a" stroke="#1a1a1a" stroke-width="0.45" >*</text>
<text transform="translate(155.10,307.20) rotate(-90) scale(0.932,1)" font-family='"Liberation Serif", serif' font-size="14.3" text-anchor="middle" fill="#1a1a1a" stroke="#1a1a1a" stroke-width="0.42">SPLENOCYTES (x10<tspan font-size="9.5" dy="-5"> 6</tspan><tspan dy="5">)</tspan></text>
<rect x="430.00" y="341.80" width="18.80" height="29.40" fill="#fff" stroke="#1a1a1a" stroke-width="1.1"/>
<rect x="448.80" y="311.20" width="19.40" height="60.00" fill="url(#hatch)" stroke="#4a4a4a" stroke-width="1.3"/>
<line x1="426.80" y1="272.00" x2="426.80" y2="371.70" stroke="#1a1a1a" stroke-width="1.2" />
<line x1="426.30" y1="371.20" x2="514.50" y2="371.20" stroke="#1a1a1a" stroke-width="1.3" />
<line x1="422.80" y1="371.20" x2="426.80" y2="371.20" stroke="#1a1a1a" stroke-width="1.1" />
<text transform="translate(420.80,375.60) scale(0.91,1)" font-family='"Liberation Serif", serif' font-size="14.3" text-anchor="end" font-weight="normal" font-style="normal" fill="#1a1a1a" stroke="#1a1a1a" stroke-width="0.42" >0</text>
<line x1="422.80" y1="346.50" x2="426.80" y2="346.50" stroke="#1a1a1a" stroke-width="1.1" />
<text transform="translate(420.80,350.90) scale(0.91,1)" font-family='"Liberation Serif", serif' font-size="14.3" text-anchor="end" font-weight="normal" font-style="normal" fill="#1a1a1a" stroke="#1a1a1a" stroke-width="0.42" >1</text>
<line x1="422.80" y1="321.80" x2="426.80" y2="321.80" stroke="#1a1a1a" stroke-width="1.1" />
<text transform="translate(420.80,326.20) scale(0.91,1)" font-family='"Liberation Serif", serif' font-size="14.3" text-anchor="end" font-weight="normal" font-style="normal" fill="#1a1a1a" stroke="#1a1a1a" stroke-width="0.42" >2</text>
<line x1="422.80" y1="297.10" x2="426.80" y2="297.10" stroke="#1a1a1a" stroke-width="1.1" />
<text transform="translate(420.80,301.50) scale(0.91,1)" font-family='"Liberation Serif", serif' font-size="14.3" text-anchor="end" font-weight="normal" font-style="normal" fill="#1a1a1a" stroke="#1a1a1a" stroke-width="0.42" >3</text>
<line x1="422.80" y1="272.40" x2="426.80" y2="272.40" stroke="#1a1a1a" stroke-width="1.1" />
<text transform="translate(420.80,276.80) scale(0.91,1)" font-family='"Liberation Serif", serif' font-size="14.3" text-anchor="end" font-weight="normal" font-style="normal" fill="#1a1a1a" stroke="#1a1a1a" stroke-width="0.42" >4</text>
<line x1="439.40" y1="334.20" x2="439.40" y2="340.30" stroke="#1a1a1a" stroke-width="1.0" />
<line x1="436.70" y1="334.20" x2="442.10" y2="334.20" stroke="#1a1a1a" stroke-width="1.3" />
<line x1="439.40" y1="342.60" x2="439.40" y2="347.00" stroke="#333" stroke-width="0.9" />
<line x1="436.70" y1="347.00" x2="442.10" y2="347.00" stroke="#1a1a1a" stroke-width="1.2" />
<line x1="458.50" y1="301.20" x2="458.50" y2="309.70" stroke="#1a1a1a" stroke-width="1.0" />
<line x1="455.80" y1="301.20" x2="461.20" y2="301.20" stroke="#1a1a1a" stroke-width="1.3" />
<line x1="458.50" y1="312.00" x2="458.50" y2="320.00" stroke="#333" stroke-width="0.9" />
<line x1="455.80" y1="320.00" x2="461.20" y2="320.00" stroke="#1a1a1a" stroke-width="1.2" />
<line x1="448.80" y1="371.20" x2="448.80" y2="375.40" stroke="#1a1a1a" stroke-width="1.1" />
<line x1="495.00" y1="371.20" x2="495.00" y2="375.40" stroke="#1a1a1a" stroke-width="1.1" />
<text transform="translate(448.80,386.50) scale(0.91,1)" font-family='"Liberation Serif", serif' font-size="14.3" text-anchor="middle" font-weight="normal" font-style="normal" fill="#1a1a1a" stroke="#1a1a1a" stroke-width="0.42" >BALB/c</text>
<text transform="translate(495.00,386.50) scale(0.91,1)" font-family='"Liberation Serif", serif' font-size="14.3" text-anchor="middle" font-weight="normal" font-style="normal" fill="#1a1a1a" stroke="#1a1a1a" stroke-width="0.42" >CBA</text>
<text transform="translate(458.80,298.01) scale(1,1)" font-family='"Liberation Serif", serif' font-size="14.5" text-anchor="middle" font-weight="normal" font-style="normal" fill="#1a1a1a" stroke="#1a1a1a" stroke-width="0.45" >*</text>
<line x1="475.80" y1="370.50" x2="514.20" y2="370.50" stroke="#1a1a1a" stroke-width="1.2" />
<text transform="translate(400.10,327.00) rotate(-90) scale(0.93,1)" font-family='"Liberation Serif", serif' font-size="14.3" text-anchor="middle" fill="#1a1a1a" stroke="#1a1a1a" stroke-width="0.42">STIMULATION INDICES</text>
<line x1="134.20" y1="453.50" x2="159.60" y2="453.50" stroke="#1a1a1a" stroke-width="2.7" stroke-dasharray="1.45 0.8"/>
<circle cx="147.90" cy="453.50" r="2.75" fill="#fff" stroke="#1a1a1a" stroke-width="1.2"/>
<text transform="translate(170.80,457.40) scale(1,1)" font-family='"Liberation Serif", serif' font-size="13" text-anchor="start" font-weight="normal" font-style="normal" fill="#1a1a1a" stroke="#1a1a1a" stroke-width="0.22" >PBS (YAC-1)</text>
<line x1="134.20" y1="475.30" x2="159.60" y2="475.30" stroke="#1a1a1a" stroke-width="2.7" stroke-dasharray="1.45 0.8"/>
<path d="M144.4,475.3 L147.9,471.4 L151.4,475.3 L147.9,479.2 Z" fill="#fff" stroke="#1a1a1a" stroke-width="1.2"/>
<text transform="translate(170.80,478.90) scale(1,1)" font-family='"Liberation Serif", serif' font-size="13" text-anchor="start" font-weight="normal" font-style="normal" fill="#1a1a1a" stroke="#1a1a1a" stroke-width="0.22" >PBS (A20)</text>
<line x1="260.00" y1="453.60" x2="289.00" y2="453.60" stroke="#1a1a1a" stroke-width="2.6" />
<circle cx="274.60" cy="453.60" r="3.15" fill="#1a1a1a"/>
<text transform="translate(297.50,457.40) scale(1,1)" font-family='"Liberation Serif", serif' font-size="13" text-anchor="start" font-weight="normal" font-style="normal" fill="#1a1a1a" stroke="#1a1a1a" stroke-width="0.22" >IL-15 (YAC-1)</text>
<line x1="260.00" y1="475.50" x2="289.00" y2="475.50" stroke="#1a1a1a" stroke-width="2.6" />
<path d="M271.3,475.5 L274.6,471.6 L277.9,475.5 L274.6,479.4 Z" fill="#1a1a1a"/>
<text transform="translate(297.50,478.90) scale(1,1)" font-family='"Liberation Serif", serif' font-size="13" text-anchor="start" font-weight="normal" font-style="normal" fill="#1a1a1a" stroke="#1a1a1a" stroke-width="0.22" >IL-15 (A20)</text>
<line x1="193.50" y1="489.70" x2="193.50" y2="601.70" stroke="#1a1a1a" stroke-width="1.2" />
<line x1="193.00" y1="601.20" x2="337.40" y2="601.20" stroke="#1a1a1a" stroke-width="1.3" />
<line x1="189.50" y1="601.20" x2="193.50" y2="601.20" stroke="#1a1a1a" stroke-width="1.1" />
<text transform="translate(187.50,605.40) scale(1,1)" font-family='"Liberation Serif", serif' font-size="13" text-anchor="end" font-weight="normal" font-style="normal" fill="#1a1a1a" stroke="#1a1a1a" stroke-width="0.22" >0</text>
<line x1="189.50" y1="578.98" x2="193.50" y2="578.98" stroke="#1a1a1a" stroke-width="1.1" />
<text transform="translate(187.50,583.04) scale(1,1)" font-family='"Liberation Serif", serif' font-size="13" text-anchor="end" font-weight="normal" font-style="normal" fill="#1a1a1a" stroke="#1a1a1a" stroke-width="0.22" >5</text>
<line x1="189.50" y1="556.76" x2="193.50" y2="556.76" stroke="#1a1a1a" stroke-width="1.1" />
<text transform="translate(187.50,560.68) scale(1,1)" font-family='"Liberation Serif", serif' font-size="13" text-anchor="end" font-weight="normal" font-style="normal" fill="#1a1a1a" stroke="#1a1a1a" stroke-width="0.22" >10</text>
<line x1="189.50" y1="534.54" x2="193.50" y2="534.54" stroke="#1a1a1a" stroke-width="1.1" />
<text transform="translate(187.50,538.32) scale(1,1)" font-family='"Liberation Serif", serif' font-size="13" text-anchor="end" font-weight="normal" font-style="normal" fill="#1a1a1a" stroke="#1a1a1a" stroke-width="0.22" >15</text>
<line x1="189.50" y1="512.32" x2="193.50" y2="512.32" stroke="#1a1a1a" stroke-width="1.1" />
<text transform="translate(187.50,515.96) scale(1,1)" font-family='"Liberation Serif", serif' font-size="13" text-anchor="end" font-weight="normal" font-style="normal" fill="#1a1a1a" stroke="#1a1a1a" stroke-width="0.22" >20</text>
<line x1="189.50" y1="490.10" x2="193.50" y2="490.10" stroke="#1a1a1a" stroke-width="1.1" />
<text transform="translate(187.50,493.60) scale(1,1)" font-family='"Liberation Serif", serif' font-size="13" text-anchor="end" font-weight="normal" font-style="normal" fill="#1a1a1a" stroke="#1a1a1a" stroke-width="0.22" >25</text>
<line x1="218.10" y1="601.20" x2="218.10" y2="605.40" stroke="#1a1a1a" stroke-width="1.1" />
<line x1="266.20" y1="601.20" x2="266.20" y2="605.40" stroke="#1a1a1a" stroke-width="1.1" />
<line x1="314.60" y1="601.20" x2="314.60" y2="605.40" stroke="#1a1a1a" stroke-width="1.1" />
<text transform="translate(218.10,617.40) scale(1,1)" font-family='"Liberation Serif", serif' font-size="13" text-anchor="middle" font-weight="normal" font-style="normal" fill="#1a1a1a" stroke="#1a1a1a" stroke-width="0.22" >1/1</text>
<text transform="translate(266.20,617.40) scale(1,1)" font-family='"Liberation Serif", serif' font-size="13" text-anchor="middle" font-weight="normal" font-style="normal" fill="#1a1a1a" stroke="#1a1a1a" stroke-width="0.22" >2/1</text>
<text transform="translate(314.60,617.40) scale(1,1)" font-family='"Liberation Serif", serif' font-size="13" text-anchor="middle" font-weight="normal" font-style="normal" fill="#1a1a1a" stroke="#1a1a1a" stroke-width="0.22" >4/1</text>
<text transform="translate(264.00,635.20) scale(1,1)" font-family='"Liberation Serif", serif' font-size="13" text-anchor="middle" font-weight="normal" font-style="normal" fill="#1a1a1a" stroke="#1a1a1a" stroke-width="0.22" >E/T RATIO</text>
<text transform="translate(164.90,551.00) rotate(-90) scale(0.888,1)" font-family='"Liberation Serif", serif' font-size="14.3" text-anchor="middle" fill="#1a1a1a" stroke="#1a1a1a" stroke-width="0.42">% CYTOTOXICITY</text>
<line x1="218.10" y1="565.80" x2="218.10" y2="572.40" stroke="#1a1a1a" stroke-width="1.0" />
<line x1="215.50" y1="565.80" x2="220.70" y2="565.80" stroke="#1a1a1a" stroke-width="1.3" />
<line x1="266.20" y1="546.10" x2="266.20" y2="552.80" stroke="#1a1a1a" stroke-width="1.0" />
<line x1="263.60" y1="546.10" x2="268.80" y2="546.10" stroke="#1a1a1a" stroke-width="1.3" />
<line x1="266.20" y1="553.60" x2="266.20" y2="558.50" stroke="#333" stroke-width="0.9" />
<line x1="263.60" y1="558.50" x2="268.80" y2="558.50" stroke="#1a1a1a" stroke-width="1.2" />
<line x1="266.20" y1="573.00" x2="266.20" y2="578.20" stroke="#1a1a1a" stroke-width="1.0" />
<line x1="263.60" y1="573.00" x2="268.80" y2="573.00" stroke="#1a1a1a" stroke-width="1.3" />
<line x1="314.60" y1="547.00" x2="314.60" y2="552.80" stroke="#1a1a1a" stroke-width="1.0" />
<line x1="312.00" y1="547.00" x2="317.20" y2="547.00" stroke="#1a1a1a" stroke-width="1.3" />
<line x1="314.60" y1="553.60" x2="314.60" y2="558.30" stroke="#333" stroke-width="0.9" />
<line x1="312.00" y1="558.30" x2="317.20" y2="558.30" stroke="#1a1a1a" stroke-width="1.2" />
<line x1="266.20" y1="588.80" x2="266.20" y2="594.60" stroke="#333" stroke-width="0.9" />
<line x1="263.60" y1="594.60" x2="268.80" y2="594.60" stroke="#1a1a1a" stroke-width="1.2" />
<line x1="314.60" y1="562.30" x2="314.60" y2="569.20" stroke="#1a1a1a" stroke-width="1.0" />
<line x1="312.00" y1="562.30" x2="317.20" y2="562.30" stroke="#1a1a1a" stroke-width="1.3" />
<line x1="314.60" y1="570.00" x2="314.60" y2="575.00" stroke="#333" stroke-width="0.9" />
<line x1="312.00" y1="575.00" x2="317.20" y2="575.00" stroke="#1a1a1a" stroke-width="1.2" />
<polyline points="218.10,593.70 266.20,588.00 314.60,586.00" fill="none" stroke="#1a1a1a" stroke-width="3.0" stroke-linejoin="round" stroke-dasharray="1.4 0.9"/>
<polyline points="218.10,581.00 266.20,578.20 314.60,552.80" fill="none" stroke="#1a1a1a" stroke-width="3.0" stroke-linejoin="round" stroke-dasharray="1.4 0.9"/>
<polyline points="218.10,586.80 266.20,584.50 314.60,569.20" fill="none" stroke="#1a1a1a" stroke-width="2.8" stroke-linejoin="round" />
<polyline points="218.10,572.40 266.20,552.80 314.60,515.90" fill="none" stroke="#1a1a1a" stroke-width="2.8" stroke-linejoin="round" />
<path d="M214.10,593.70 L218.10,589.70 L222.10,593.70 L218.10,597.70 Z" fill="#fff" stroke="#1a1a1a" stroke-width="1.1"/>
<path d="M262.20,588.00 L266.20,584.00 L270.20,588.00 L266.20,592.00 Z" fill="#fff" stroke="#1a1a1a" stroke-width="1.1"/>
<path d="M310.60,586.00 L314.60,582.00 L318.60,586.00 L314.60,590.00 Z" fill="#fff" stroke="#1a1a1a" stroke-width="1.1"/>
<circle cx="218.10" cy="581.00" r="3.4" fill="#fff" stroke="#1a1a1a" stroke-width="1.2"/>
<circle cx="266.20" cy="578.20" r="3.4" fill="#fff" stroke="#1a1a1a" stroke-width="1.2"/>
<circle cx="314.60" cy="552.80" r="3.4" fill="#fff" stroke="#1a1a1a" stroke-width="1.2"/>
<path d="M214.05,586.80 L218.10,582.75 L222.15,586.80 L218.10,590.85 Z" fill="#1a1a1a"/>
<path d="M262.15,584.50 L266.20,580.45 L270.25,584.50 L266.20,588.55 Z" fill="#1a1a1a"/>
<path d="M310.55,569.20 L314.60,565.15 L318.65,569.20 L314.60,573.25 Z" fill="#1a1a1a"/>
<circle cx="218.10" cy="572.40" r="3.6" fill="#1a1a1a"/>
<circle cx="266.20" cy="552.80" r="3.6" fill="#1a1a1a"/>
<circle cx="314.60" cy="515.90" r="3.6" fill="#1a1a1a"/>
<text transform="translate(266.40,541.02) scale(1,1)" font-family='"Liberation Serif", serif' font-size="14.5" text-anchor="middle" font-weight="normal" font-style="normal" fill="#1a1a1a" stroke="#1a1a1a" stroke-width="0.45" >*</text>
<text transform="translate(311.30,510.62) scale(1,1)" font-family='"Liberation Serif", serif' font-size="14.5" text-anchor="middle" font-weight="normal" font-style="normal" fill="#1a1a1a" stroke="#1a1a1a" stroke-width="0.45" >*</text>
</svg></body></html>
